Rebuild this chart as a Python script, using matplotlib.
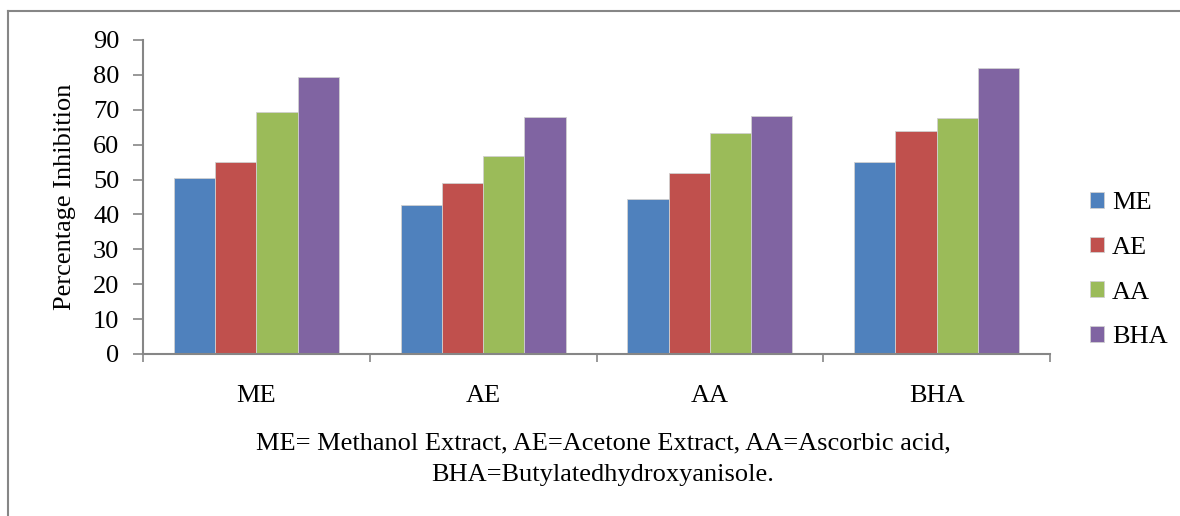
import matplotlib.pyplot as plt
import numpy as np

# Data
CATEGORIES = ['ME', 'AE', 'AA', 'BHA']
SERIES     = ['ME', 'AE', 'AA', 'BHA']
VAL_ME     = [50.4, 42.7, 44.4, 55.0]
VAL_AE     = [55.0, 49.0, 51.9, 63.9]
VAL_AA     = [69.4, 56.7, 63.3, 67.6]
VAL_BHA    = [79.4, 67.9, 68.2, 82.0]
Y_TICKS    = [0, 10, 20, 30, 40, 50, 60, 70, 80, 90]
CAPTION    = 'ME= Methanol Extract, AE=Acetone Extract, AA=Ascorbic acid,\nBHA=Butylatedhydroxyanisole.'

COLORS = ['#4F81BD', '#C0504D', '#9BBB59', '#8064A2']
GRAY   = '#868686'
FS     = 19

plt.rcParams['font.family'] = ['Liberation Serif', 'DejaVu Serif']

fig = plt.figure(figsize=(11.8, 5.16), dpi=100, facecolor='w')
ax = fig.add_axes([143 / 1180, 1 - 354 / 516, (1050 - 143) / 1180, (354 - 40) / 516])

# Outer frame (top and left edges visible)
fig.add_artist(plt.Line2D([8 / 1180, 8 / 1180], [0, 1 - 11 / 516], transform=fig.transFigure, color=GRAY, lw=1.5))
fig.add_artist(plt.Line2D([8 / 1180, 1.0], [1 - 11 / 516, 1 - 11 / 516], transform=fig.transFigure, color=GRAY, lw=1.5))

x = np.arange(len(CATEGORIES))
bw = 0.182
values = [VAL_ME, VAL_AE, VAL_AA, VAL_BHA]
for i, vals in enumerate(values):
    ax.bar(x + (i - 1.5) * bw, vals, width=bw, color=COLORS[i], label=SERIES[i],
           edgecolor='#d0d0d0', linewidth=0.6)

ax.set_xlim(-0.5, len(CATEGORIES) - 0.5)
ax.set_ylim(0, 90)
ax.set_yticks(Y_TICKS)
ax.tick_params(axis='y', labelsize=FS, length=7, width=1.2, color=GRAY, direction='out', pad=10)
ax.set_xticks(np.arange(len(CATEGORIES) + 1) - 0.5)
ax.set_xticklabels([])
ax.set_xticks(x, minor=True)
ax.set_xticklabels(CATEGORIES, minor=True)
ax.tick_params(axis='x', which='major', length=6, width=1.2, color=GRAY, direction='out')
ax.tick_params(axis='x', which='minor', length=0, labelsize=FS, pad=22)

for s in ['top', 'right']:
    ax.spines[s].set_visible(False)
for s in ['left', 'bottom']:
    ax.spines[s].set_color(GRAY)
    ax.spines[s].set_linewidth(1.5)

ax.set_ylabel('Percentage Inhibition', fontsize=FS, labelpad=12)

fig.text(603 / 1180, 1 - 459 / 516, CAPTION, ha='center', va='center', fontsize=FS, linespacing=1.55)

leg = ax.legend(loc='center left', bbox_to_anchor=(1066 / 1180, 1 - 270 / 516),
                bbox_transform=fig.transFigure, frameon=False, fontsize=FS,
                handlelength=0.55, handleheight=0.55, handletextpad=0.3, labelspacing=0.85)

plt.savefig('out.png', dpi=100)
